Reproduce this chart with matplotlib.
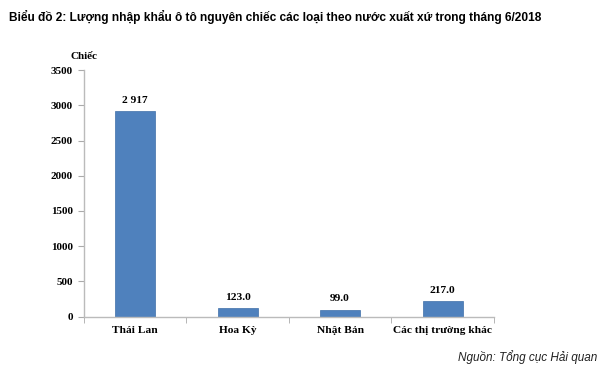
import matplotlib.pyplot as plt
import numpy as np

categories = ['Thái Lan', 'Hoa Kỳ', 'Nhật Bản', 'Các thị trường khác']
values = [2917, 123, 99, 217]
value_labels = ['2 917', '123.0', '99.0', '217.0']
yticks = [0, 500, 1000, 1500, 2000, 2500, 3000, 3500]

serif = ['Liberation Serif', 'DejaVu Serif']

fig = plt.figure(figsize=(6, 3.75), dpi=100)
ax = fig.add_axes([0.14, 0.156, 0.683, 0.657])

x = np.arange(len(categories))
ax.bar(x, values, width=0.39, color='#4F81BD', edgecolor='#3F6FA8', linewidth=0.5)

for xi, v, lab in zip(x, values, value_labels):
    ax.text(xi, v + 90, lab, ha='center', va='bottom', fontsize=8.2,
            fontweight='bold', family=serif)

ax.set_xlim(-0.5, len(categories) - 0.5)
ax.set_ylim(0, 3500)
ax.set_yticks(yticks)
ax.set_yticklabels([str(t) for t in yticks], fontsize=8, fontweight='bold', family=serif)

# category labels centred, tick marks at category borders
ax.set_xticks(x)
ax.set_xticklabels(categories, fontsize=8.2, fontweight='bold', family=serif)
ax.tick_params(axis='x', length=0, pad=7)
ax.set_xticks(np.arange(-0.5, len(categories)), minor=True)
ax.tick_params(axis='x', which='minor', length=4, color='#AAAAAA', direction='out')
ax.tick_params(axis='y', length=4, color='#AAAAAA', direction='out', pad=4)

for s in ['top', 'right']:
    ax.spines[s].set_visible(False)
for s in ['left', 'bottom']:
    ax.spines[s].set_color('#BBBBBB')
    ax.spines[s].set_linewidth(1.0)

fig.text(0.117, 0.838, 'Chiếc', fontsize=8, fontweight='bold', family=serif,
         ha='left', va='bottom')

fig.text(0.015, 0.955, 'Biểu đồ 2: Lượng nhập khẩu ô tô nguyên chiếc các loại theo nước xuất xứ trong tháng 6/2018',
         fontsize=8.6, fontweight='bold', family=['Liberation Sans', 'DejaVu Sans'],
         ha='left', va='center')

fig.text(0.995, 0.048, 'Nguồn: Tổng cục Hải quan', fontsize=8.5, style='italic',
         family=['Liberation Sans', 'DejaVu Sans'], ha='right', va='center', color='#222222')

fig.savefig('out.png', dpi=100)
